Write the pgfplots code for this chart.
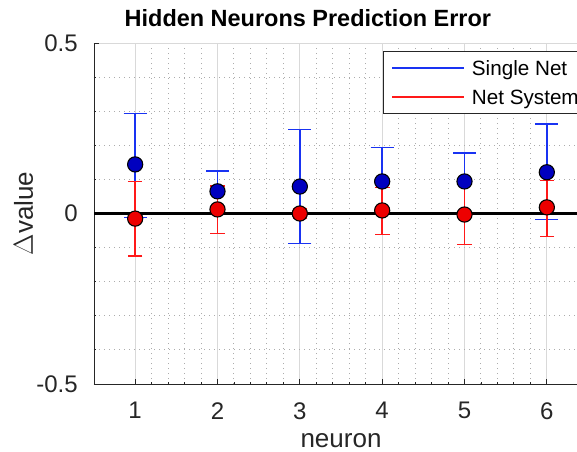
\documentclass[border=0pt]{standalone}
\usepackage{pgfplots}
\pgfplotsset{compat=1.18}
\usepackage{fontspec}
\setmainfont{Liberation Sans}
\definecolor{axgray}{rgb}{0.15,0.15,0.15}
\definecolor{sblue}{rgb}{0.1,0.2,0.95}
\definecolor{sbluefill}{rgb}{0,0,0.75}
\definecolor{nred}{rgb}{1,0.1,0.1}
\definecolor{nredfill}{rgb}{0.93,0,0}
\begin{document}
\begin{tikzpicture}
\useasboundingbox (-70.5pt,-50.25pt) rectangle (362.25pt,288pt);
\clip (-70.5pt,-50.25pt) rectangle (362.25pt,288pt);
\begin{axis}[
  at={(0pt,0pt)}, anchor=south west,
  scale only axis, width=370.5pt, height=255.75pt,
  xmin=0.5, xmax=6.5, ymin=-0.5, ymax=0.5,
  xtick={1,2,3,4,5,6}, ytick={-0.5,0,0.5},
  yticklabels={-0.5,0,0.5},
  minor x tick num=4, minor y tick num=4,
  axis x line*=bottom, axis y line*=left,
  axis line style={axgray, line width=0.7pt},
  tick style={axgray, line width=0.7pt},
  tick align=inside, major tick length=3.75pt, minor tick length=1.5pt,
  grid=both,
  major grid style={gray!30, line width=0.6pt},
  minor grid style={gray!65, line width=0.75pt, dash pattern=on 0.75pt off 3pt},
  /pgf/number format/assume math mode=true,
  ticklabel style={font=\fontsize{18}{21}\selectfont, text=black!85},
  yticklabel style={inner sep=0pt, anchor=east, xshift=-12pt},
  xticklabel style={inner sep=0pt, anchor=north, yshift=-13.5pt},
  xlabel={neuron}, ylabel={$\Delta$value},
  xlabel style={font=\fontsize{19.5}{22}\selectfont, text=black!85, at={(axis description cs:0.5,-0.1848)}, anchor=base},
  ylabel style={font=\fontsize{19.5}{22}\selectfont, text=black!85, at={(axis description cs:-0.1235,0.5)}, anchor=base},
  title={\textbf{Hidden Neurons Prediction Error}},
  title style={font=\fontsize{17.6}{20}\selectfont, at={(axis description cs:0.433,1.026)}, anchor=base},
  legend style={at={(axis description cs:0.585,0.9765)}, anchor=north west,
    draw=axgray, line width=0.7pt, fill=white, font=\fontsize{15.5}{18}\selectfont,
    inner xsep=6pt, inner ysep=5pt, row sep=6.9pt, column sep=5.25pt,
    nodes={inner sep=0pt, text height=13pt, text depth=1.8pt}},
  legend cell align=left,
  legend image code/.code={\draw[#1, line width=1.1pt] (0pt,0pt) -- (54pt,0pt);},
]
\addplot[sblue, line width=1.1pt, only marks,
  mark=*, mark size=5.7pt, mark options={fill=sbluefill, draw=black, line width=0.8pt},
  error bars/.cd, y dir=both, y explicit,
  error mark=|, error mark options={sblue, line width=1.1pt, mark size=8.6pt},
  error bar style={sblue, line width=1.1pt}]
  table[x=x, y=y, y error plus=ep, y error minus=em] {
x y ep em
1 0.144 0.150 0.156
2 0.065 0.059 0.065
3 0.079 0.168 0.167
4 0.094 0.100 0.094
5 0.094 0.083 0.094
6 0.121 0.141 0.139
};
\addlegendentry{Single Net}
\addplot[black, line width=1.8pt, forget plot] coordinates {(0.5,0) (6.5,0)};
\addplot[nred, line width=1.1pt, only marks,
  mark=*, mark size=5.7pt, mark options={fill=nredfill, draw=black, line width=0.8pt},
  error bars/.cd, y dir=both, y explicit,
  error mark=|, error mark options={nred, line width=1.1pt, mark size=5.5pt},
  error bar style={nred, line width=1.1pt}]
  table[x=x, y=y, y error plus=ep, y error minus=em] {
x y ep em
1 -0.015 0.109 0.109
2 0.012 0.068 0.071
3 0.000 0.015 0.015
4 0.009 0.068 0.071
5 -0.003 0.088 0.088
6 0.018 0.079 0.086
};
\addlegendentry{Net System}
\end{axis}
\end{tikzpicture}
\end{document}
